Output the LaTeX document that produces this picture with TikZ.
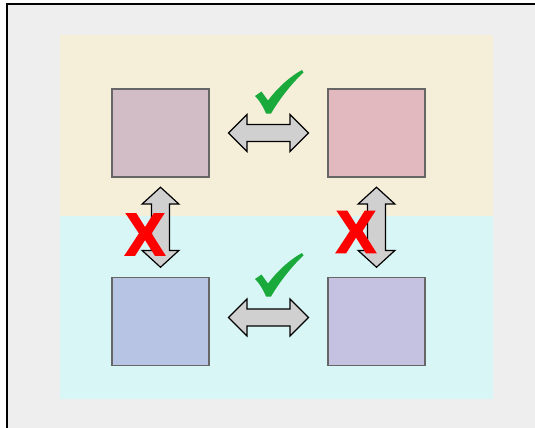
\documentclass[tikz,border=0pt]{standalone}
\usepackage{fontspec}
\setmainfont{Liberation Sans}
\newfontfamily\heavyfont[FakeBold=2.5]{Liberation Sans Bold}
\usetikzlibrary{calc}
\definecolor{framegray}{HTML}{EEEEEE}
\definecolor{bandbeige}{HTML}{F5EED8}
\definecolor{bandcyan}{HTML}{D8F6F6}
\definecolor{sqA}{HTML}{D2BCC6}
\definecolor{sqB}{HTML}{E3B9C0}
\definecolor{sqC}{HTML}{B8C4E4}
\definecolor{sqD}{HTML}{C4C2E0}
\definecolor{arrowgray}{HTML}{D0D0D0}
\definecolor{checkgreen}{HTML}{1AAA3C}
\begin{document}
\begin{tikzpicture}[x=0.75pt,y=-0.75pt,
  sqbox/.style={draw=black!60, line width=0.8pt, inner sep=0pt,
    minimum width=72.75pt, minimum height=66pt},
  arrowstyle/.style={draw=black, line width=0.9pt, fill=arrowgray, line join=miter},
  crossmark/.style={text=red, font=\heavyfont\fontsize{45}{45}\selectfont, inner sep=0pt},
  dblH/.pic={\draw[arrowstyle] (-40,0) -- (-21.5,-18.5) -- (-21.5,-8.5) -- (21.5,-8.5) -- (21.5,-18.5) -- (40,0) -- (21.5,18.5) -- (21.5,8.5) -- (-21.5,8.5) -- (-21.5,18.5) -- cycle;},
  dblV/.pic={\draw[arrowstyle] (0,-40) -- (-18.3,-23.3) -- (-9,-23.3) -- (-9,23.3) -- (-18.3,23.3) -- (0,40) -- (18.3,23.3) -- (9,23.3) -- (9,-23.3) -- (18.3,-23.3) -- cycle;},
  tick/.pic={\fill[checkgreen] (-24,4) -- (-17.5,-0.5) -- (-11,8.5) .. controls (0,-6) and (12,-16) .. (23,-22) -- (24.5,-19.5) .. controls (12,-8) and (0,8) .. (-8,21.5) -- (-13,21.5) .. controls (-16,14) and (-20,8) .. (-24,4) -- cycle;}
]
\useasboundingbox (0,0) rectangle (535,428);
\fill[white] (0,0) rectangle (535,428);
\begin{scope}
\clip (0,0) rectangle (535,428);
\draw[fill=framegray, line width=1.4pt] (6.8,4) rectangle (560,450);
\end{scope}
\fill[bandbeige] (60,35) rectangle (493,216);
\fill[bandcyan] (60,216) rectangle (493,399);
\node[sqbox, fill=sqA] (A) at (160.5,133) {};
\node[sqbox, fill=sqB] (B) at (376.5,133) {};
\node[sqbox, fill=sqC] (C) at (160.5,321.5) {};
\node[sqbox, fill=sqD] (D) at (376.5,321.5) {};
\pic at ($(A.east)!0.5!(B.west)$) {dblH};
\pic at ($(C.east)!0.5!(D.west)+(0,-4)$) {dblH};
\pic at ($(A.south)!0.5!(C.north)$) {dblV};
\pic at ($(B.south)!0.5!(D.north)$) {dblV};
\node[crossmark] (xl) at (145,234.5) {X};
\node[crossmark] (xr) at (356,232) {X};
\pic at (279,92) {tick};
\pic at (279,275) {tick};
\end{tikzpicture}
\end{document}
